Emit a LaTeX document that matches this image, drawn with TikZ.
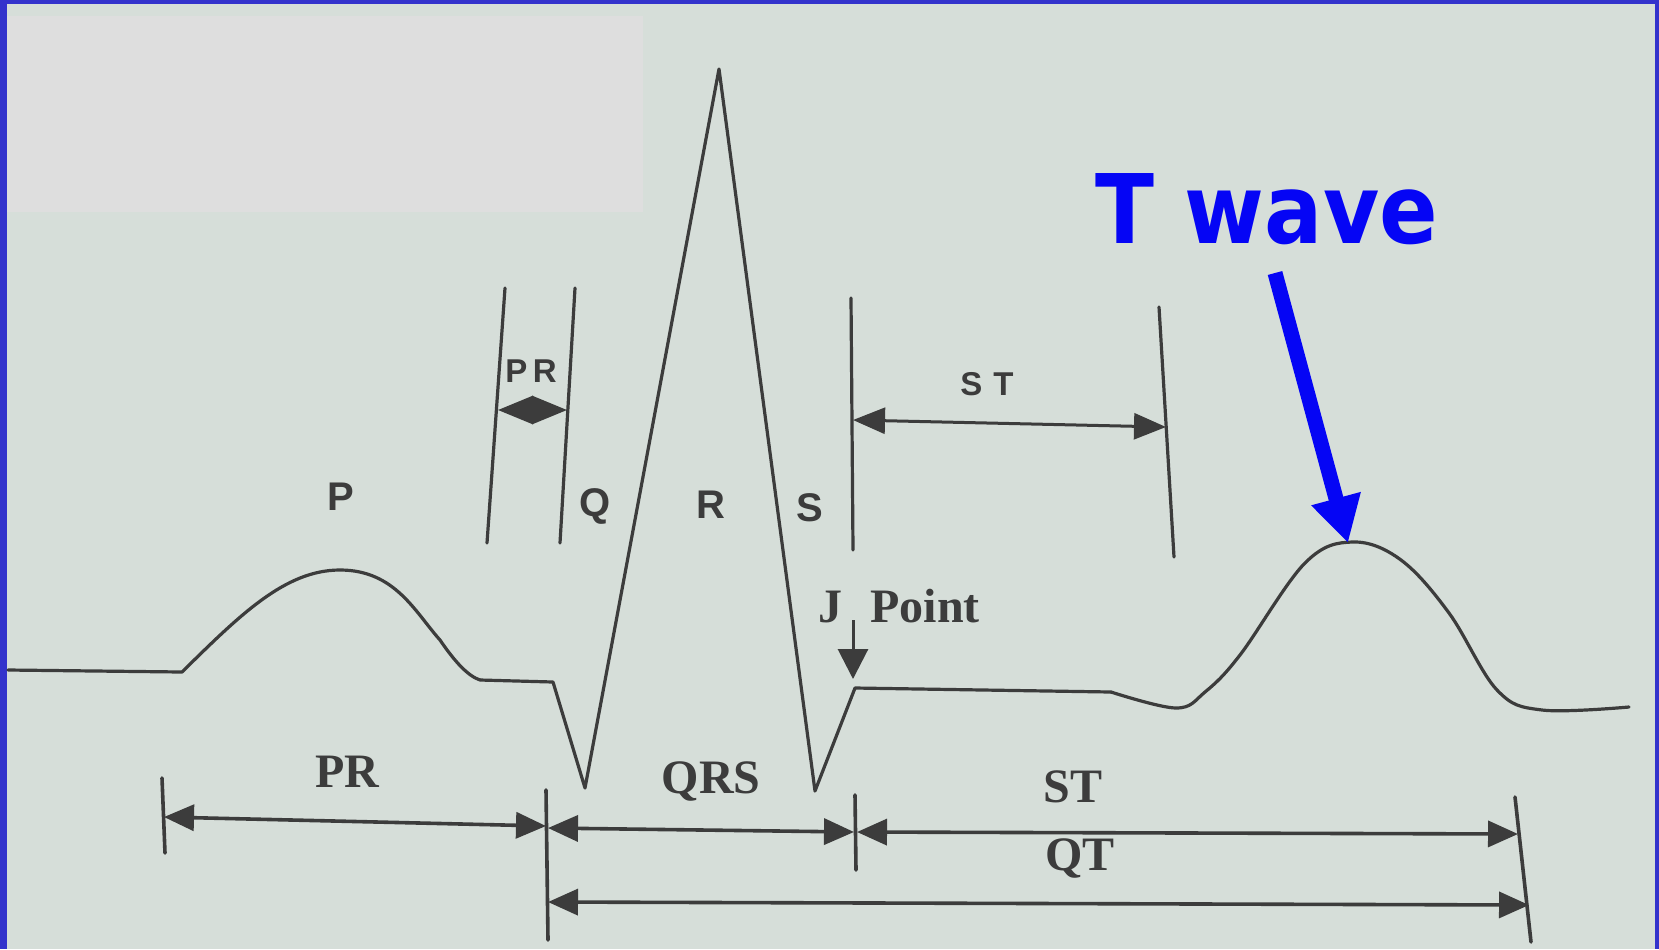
\documentclass[tikz,border=0pt]{standalone}
\usepackage{fontspec}
\setmainfont{Liberation Serif}
\newfontfamily\lsans{Liberation Sans}
\newfontfamily\dvs{DejaVu Sans}
\usetikzlibrary{arrows.meta}
\definecolor{bgc}{HTML}{D6DED9}
\definecolor{boxc}{HTML}{DEDEDE}
\definecolor{framec}{HTML}{3333CC}
\definecolor{inkc}{HTML}{3C3C3C}
\definecolor{tblue}{HTML}{0505F5}
\begin{document}
\begin{tikzpicture}[x=0.5pt,y=-0.5pt,
  ink/.style={draw=inkc, line width=1.6pt, line join=round, line cap=round},
  dimline/.style={draw=inkc, line width=1.8pt, {Triangle[length=15pt,width=13pt]}-{Triangle[length=15pt,width=13pt]}},
  toplab/.style={font=\lsans\bfseries\fontsize{20}{20}\selectfont, text=inkc, anchor=base, inner sep=0pt},
  smalllab/.style={font=\lsans\bfseries\fontsize{16.5}{16}\selectfont, text=inkc, anchor=base, inner sep=0pt},
  botlab/.style={font=\bfseries\fontsize{24}{24}\selectfont, text=inkc, anchor=base, inner sep=0pt}]
\useasboundingbox (0,0) rectangle (1659,949);
% background and frame
\fill[bgc] (0,0) rectangle (1659,949);
\fill[boxc] (7,16) rectangle (643,212);
\fill[framec] (0,0) rectangle (7,949);
\fill[framec] (0,0) rectangle (1659,4);
\fill[framec] (1655,0) rectangle (1659,949);

% ECG trace
\coordinate (b0) at (8,670);
\coordinate (pst) at (182,672);
\coordinate (ppk) at (340,570);
\coordinate (pmd) at (440,640);
\coordinate (pen) at (480,680);
\coordinate (qst) at (553,682);
\coordinate (qpt) at (585,788);
\coordinate (rpt) at (719,69);
\coordinate (spt) at (815,791);
\coordinate (jpt) at (855,688);
\coordinate (tst) at (1111,692);
\draw[ink] (b0) -- (pst) .. controls (240,615) and (285,570) .. (ppk)
  .. controls (395,570) and (415,612) .. (pmd)
  .. controls (455,662) and (468,676) .. (pen);
\draw[ink] (pen) -- (qst) -- (qpt) -- (rpt) -- (spt) -- (jpt) -- (tst);
\draw[ink] plot[smooth,tension=0.6] coordinates {(1111,692) (1176,708) (1205,692) (1240,655) (1305,563) (1353,542) (1401,560) (1449,613) (1497,690) (1542,710) (1629,707)};

% top PR interval lines
\coordinate (pra) at (505,288); \coordinate (prb) at (487,543);
\coordinate (prc) at (575,288); \coordinate (prd) at (560,543);
\draw[ink] (pra) -- (prb);
\draw[ink] (prc) -- (prd);
\coordinate (prl) at (498,410); \coordinate (prr) at (567,410);
\draw[draw=inkc, line width=1.5pt, {Triangle[length=17.5pt,width=14pt]}-{Triangle[length=17.5pt,width=14pt]}] (prl) -- (prr);
\node[smalllab] (lpr) at (531,382) {P\,R};

% top ST lines
\coordinate (sta) at (851,298); \coordinate (stb) at (853,550);
\coordinate (stc) at (1159,307); \coordinate (std) at (1174,557);
\draw[ink] (sta) -- (stb);
\draw[ink] (stc) -- (std);
\coordinate (stl) at (853,420); \coordinate (str) at (1166,427);
\draw[draw=inkc, line width=1.5pt, {Triangle[length=16pt,width=13pt]}-{Triangle[length=16pt,width=13pt]}] (stl) -- (str);
\node[smalllab] (lst) at (987,395) {S\,\,T};

% wave letters
\node[toplab] (lp) at (341,510) {P};
\node[toplab] (lq) at (595,516) {Q};
\node[toplab] (lr) at (711,518) {R};
\node[toplab] (ls) at (810,521) {S};

% J point
\node[botlab, anchor=base west] (lj) at (818,622) {J\hspace{14pt}Point};
\coordinate (ja) at (853,620); \coordinate (jb) at (853,679);
\draw[draw=inkc, line width=1.5pt, -{Triangle[length=15pt,width=15pt]}] (ja) -- (jb);

% bottom ticks
\coordinate (t1a) at (162,778); \coordinate (t1b) at (165,853);
\coordinate (t2a) at (546,790); \coordinate (t2b) at (548,940);
\coordinate (t3a) at (855,795); \coordinate (t3b) at (856,870);
\coordinate (t4a) at (1515,797); \coordinate (t4b) at (1531,942);
\draw[ink, line width=1.8pt] (t1a) -- (t1b);
\draw[ink, line width=1.8pt] (t2a) -- (t2b);
\draw[ink, line width=1.8pt] (t3a) -- (t3b);
\draw[ink, line width=1.8pt] (t4a) -- (t4b);

% bottom dimension lines
\coordinate (d1a) at (164,817); \coordinate (d1b) at (546,826);
\coordinate (d2a) at (548,828); \coordinate (d2b) at (854,832);
\coordinate (d3a) at (857,832); \coordinate (d3b) at (1518,834);
\coordinate (d4a) at (548,902); \coordinate (d4b) at (1529,905);
\draw[dimline] (d1a) -- (d1b);
\draw[dimline] (d2a) -- (d2b);
\draw[dimline] (d3a) -- (d3b);
\draw[dimline] (d4a) -- (d4b);
\node[botlab] (bpr) at (347,787) {PR};
\node[botlab] (bqrs) at (711,793) {QRS};
\node[botlab] (bst) at (1073,802) {ST};
\node[botlab] (bqt) at (1080,870) {QT};

% T wave annotation
\node[font=\dvs\bfseries\fontsize{48}{48}\selectfont, text=tblue, anchor=base, inner sep=0pt] (tw) at (1267,243) {\scalebox{0.9}[1]{T wave}};
\coordinate (ta) at (1275,273);
\coordinate (tb) at (1348,543);
\draw[draw=tblue, line width=7.5pt, -{Triangle[length=23pt,width=24pt]}] (ta) -- (tb);
\end{tikzpicture}
\end{document}
